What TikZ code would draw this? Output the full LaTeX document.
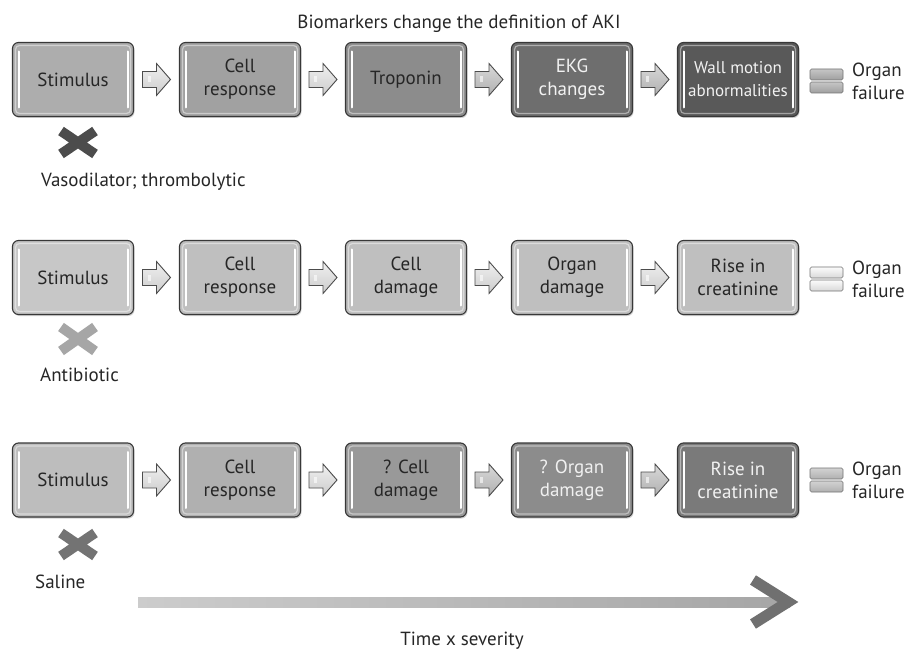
\documentclass[tikz,border=0pt]{standalone}
\usepackage{fontspec}
\setmainfont{PT Sans}
\usetikzlibrary{shadows,calc}
\definecolor{txtdark}{gray}{0.15}
\definecolor{txtlight}{gray}{0.95}
\definecolor{r1a}{gray}{0.68}
\definecolor{r1b}{gray}{0.63}
\definecolor{r1c}{gray}{0.55}
\definecolor{r1d}{gray}{0.43}
\definecolor{r1e}{gray}{0.35}
\definecolor{r2a}{gray}{0.78}
\definecolor{r2b}{gray}{0.75}
\definecolor{r3a}{gray}{0.74}
\definecolor{r3b}{gray}{0.69}
\definecolor{r3c}{gray}{0.60}
\definecolor{r3d}{gray}{0.55}
\definecolor{r3e}{gray}{0.48}
\begin{document}
\begin{tikzpicture}[x=1pt,y=-1pt,
  every node/.style={font=\fontsize{19}{23}\selectfont, text=txtdark},
  box/.style={draw=black!78, line width=1.1pt, rounded corners=6pt,
    minimum width=121pt, minimum height=74pt, align=center, inner sep=1pt,
    drop shadow={opacity=0.35, shadow xshift=1pt, shadow yshift=-1.5pt},
    path picture={
      \draw[white, opacity=0.45, line width=1.2pt, rounded corners=4pt]
        ([shift={(3pt,-3pt)}]path picture bounding box.north west) rectangle
        ([shift={(-3pt,3pt)}]path picture bounding box.south east);
      \draw[white, line width=2pt, line cap=round, sharp corners]
        ([shift={(6pt,-9pt)}]path picture bounding box.north west) --
        ([shift={(6pt,9pt)}]path picture bounding box.south west);
      \draw[white, line width=2pt, line cap=round, sharp corners]
        ([shift={(-6pt,-9pt)}]path picture bounding box.north east) --
        ([shift={(-6pt,9pt)}]path picture bounding box.south east);
    }},
  sarrow/.style={draw=black!70, line width=0.9pt, line join=miter,
    top color=gray!12, bottom color=gray!40},
  sarrowdark/.style={draw=black!70, line width=0.9pt, line join=miter,
    top color=gray!30, bottom color=gray!62},
  pics/blockarrow/.style={code={
    \draw[#1] (-14,-8) -- (0,-8) -- (0,-16) -- (14,0) -- (0,16) -- (0,8) -- (-14,8) -- cycle;
    \fill[white, opacity=0.6] (-9,-3) -- (-6,-3) -- (-6,3) -- (-9,3) -- cycle;
  }},
  crossmark/.style={line width=10pt},
  eqbar/.style={draw=black!55, line width=0.6pt, rounded corners=1.5pt},
  label/.style={anchor=west, inner sep=0pt},
  failtext/.style={anchor=west, align=left, inner sep=0pt, font=\fontsize{19}{23}\selectfont}
]
\useasboundingbox[fill=white] (0,0) rectangle (921,655);

% title
\node (title) at (459,24) {Biomarkers change the definition of AKI};

% ---------- row 1 ----------
\node[box, fill=r1a] (r1a) at (73,79.5) {Stimulus};
\node[box, fill=r1b] (r1b) at (240,79.5) {Cell\\response};
\node[box, fill=r1c] (r1c) at (406,79.5) {Troponin};
\node[box, fill=r1d, text=txtlight] (r1d) at (572,79.5) {EKG\\changes};
\node[box, fill=r1e, text=txtlight, font=\fontsize{17}{23}\selectfont] (r1e) at (738,79.5) {Wall motion\\abnormalities};
\coordinate (a1ab) at ($(r1a.east)!0.5!(r1b.west)$);
\coordinate (a1bc) at ($(r1b.east)!0.5!(r1c.west)$);
\coordinate (a1cd) at ($(r1c.east)!0.5!(r1d.west)$);
\coordinate (a1de) at ($(r1d.east)!0.5!(r1e.west)$);
\pic at (a1ab) {blockarrow=sarrow};
\pic at (a1bc) {blockarrow=sarrow};
\pic at (a1cd) {blockarrow=sarrowdark};
\pic at (a1de) {blockarrow=sarrowdark};
\draw[eqbar, top color=gray!45, bottom color=gray!75] (810,69) rectangle (843,80);
\draw[eqbar, top color=gray!45, bottom color=gray!75] (810,82) rectangle (843,93);
\node[failtext] (of1) at (852,81) {Organ\\failure};
\draw[crossmark, black!70] (61,131) -- (95,154) (61,154) -- (95,131);
\node[label] (lab1) at (41,182) {Vasodilator; thrombolytic};

% ---------- row 2 ----------
\node[box, fill=r2a] (r2a) at (73,277.5) {Stimulus};
\node[box, fill=r2b] (r2b) at (240,277.5) {Cell\\response};
\node[box, fill=r2b] (r2c) at (406,277.5) {Cell\\damage};
\node[box, fill=r2b] (r2d) at (572,277.5) {Organ\\damage};
\node[box, fill=r2b] (r2e) at (738,277.5) {Rise in\\creatinine};
\coordinate (a2ab) at ($(r2a.east)!0.5!(r2b.west)$);
\coordinate (a2bc) at ($(r2b.east)!0.5!(r2c.west)$);
\coordinate (a2cd) at ($(r2c.east)!0.5!(r2d.west)$);
\coordinate (a2de) at ($(r2d.east)!0.5!(r2e.west)$);
\pic at (a2ab) {blockarrow=sarrow};
\pic at (a2bc) {blockarrow=sarrow};
\pic at (a2cd) {blockarrow=sarrow};
\pic at (a2de) {blockarrow=sarrow};
\draw[eqbar, top color=gray!3, bottom color=gray!30] (810,267) rectangle (843,278);
\draw[eqbar, top color=gray!3, bottom color=gray!30] (810,280) rectangle (843,291);
\node[failtext] (of2) at (852,279) {Organ\\failure};
\draw[crossmark, black!35] (61,327) -- (95,351) (61,351) -- (95,327);
\node[label] (lab2) at (40,375) {Antibiotic};

% ---------- row 3 ----------
\node[box, fill=r3a] (r3a) at (73,480) {Stimulus};
\node[box, fill=r3b] (r3b) at (240,480) {Cell\\response};
\node[box, fill=r3c] (r3c) at (406,480) {? Cell\\damage};
\node[box, fill=r3d, text=gray!12] (r3d) at (572,480) {? Organ\\damage};
\node[box, fill=r3e, text=txtlight] (r3e) at (738,480) {Rise in\\creatinine};
\coordinate (a3ab) at ($(r3a.east)!0.5!(r3b.west)$);
\coordinate (a3bc) at ($(r3b.east)!0.5!(r3c.west)$);
\coordinate (a3cd) at ($(r3c.east)!0.5!(r3d.west)$);
\coordinate (a3de) at ($(r3d.east)!0.5!(r3e.west)$);
\pic at (a3ab) {blockarrow=sarrow};
\pic at (a3bc) {blockarrow=sarrow};
\pic at (a3cd) {blockarrow=sarrowdark};
\pic at (a3de) {blockarrow=sarrowdark};
\draw[eqbar, top color=gray!35, bottom color=gray!62] (810,468) rectangle (843,479);
\draw[eqbar, top color=gray!35, bottom color=gray!62] (810,481) rectangle (843,492);
\node[failtext] (of3) at (852,480) {Organ\\failure};
\draw[crossmark, black!55] (61,533) -- (95,556) (61,556) -- (95,533);
\node[label] (lab3) at (35,582) {Saline};

% ---------- time arrow ----------
\coordinate (tstart) at (138,602);
\coordinate (ttip) at (788,602);
\fill[left color=gray!40, right color=gray!70] (tstart) ++(0,-5) rectangle (790,607);
\draw[line width=11pt, gray!75!black!90, line join=miter] (753,580) -- (ttip) -- (753,624);
\node (time) at (462,641) {Time x severity};
\end{tikzpicture}
\end{document}
